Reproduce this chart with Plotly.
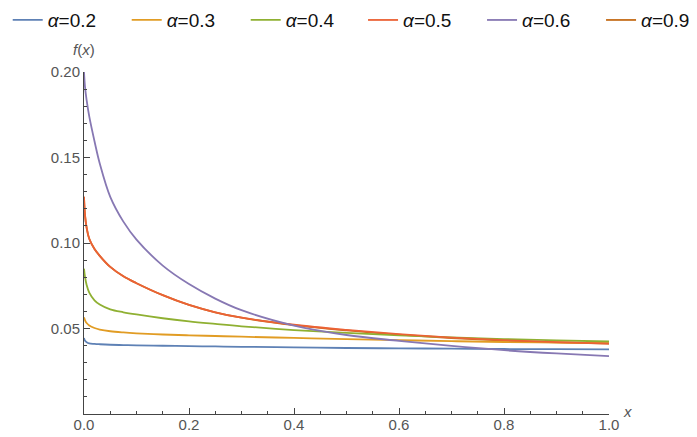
import plotly.graph_objects as go

# Sampled x positions shared by all curves
x_vals = [0.0, 0.002, 0.005, 0.01, 0.02, 0.03, 0.05, 0.075, 0.1, 0.15,
          0.2, 0.25, 0.3, 0.4, 0.5, 0.6, 0.7, 0.8, 0.9, 1.0]

# f(x) for each alpha
f_a02 = [0.0445, 0.0428, 0.0420, 0.0413, 0.0410, 0.0408, 0.0405, 0.0403, 0.0401, 0.0399,
         0.0397, 0.0395, 0.0393, 0.0390, 0.0386, 0.0384, 0.0382, 0.0380, 0.0379, 0.0378]
f_a03 = [0.0565, 0.0548, 0.0532, 0.0518, 0.0503, 0.0494, 0.0484, 0.0477, 0.0472, 0.0465,
         0.0460, 0.0456, 0.0452, 0.0445, 0.0438, 0.0432, 0.0426, 0.0421, 0.0418, 0.0415]
f_a04 = [0.0850, 0.0800, 0.0755, 0.0710, 0.0665, 0.0640, 0.0612, 0.0595, 0.0582, 0.0560,
         0.0542, 0.0527, 0.0513, 0.0491, 0.0474, 0.0460, 0.0448, 0.0438, 0.0430, 0.0424]
f_a05 = [0.1270, 0.1160, 0.1090, 0.1025, 0.0965, 0.0925, 0.0860, 0.0805, 0.0765, 0.0695,
         0.0638, 0.0595, 0.0563, 0.0522, 0.0492, 0.0467, 0.0447, 0.0432, 0.0420, 0.0411]
f_a06 = [0.2000, 0.1910, 0.1835, 0.1740, 0.1595, 0.1465, 0.1270, 0.1125, 0.1020, 0.0868,
         0.0760, 0.0675, 0.0607, 0.0517, 0.0462, 0.0428, 0.0398, 0.0373, 0.0354, 0.0339]
f_a09 = [0.1270, 0.1160, 0.1090, 0.1025, 0.0965, 0.0925, 0.0860, 0.0805, 0.0765, 0.0695,
         0.0638, 0.0595, 0.0563, 0.0520, 0.0489, 0.0464, 0.0444, 0.0429, 0.0419, 0.0412]

labels = ["0.2", "0.3", "0.4", "0.5", "0.6", "0.9"]
series = [f_a02, f_a03, f_a04, f_a05, f_a06, f_a09]
# Mathematica default palette
colors = ["#5E81B5", "#E19C24", "#8FB032", "#EB6235", "#8778B3", "#C56E1A"]

AXIS_GRAY = "#555555"
LINE_GRAY = "#444444"
FONT = "Liberation Sans, Arial, sans-serif"

fig = go.Figure()

# draw alpha=0.9 first so it sits underneath the alpha=0.5 curve
order = [5, 0, 1, 2, 3, 4]
for i in order:
    fig.add_trace(go.Scatter(
        x=x_vals, y=series[i],
        mode="lines",
        line=dict(color=colors[i], width=1.8, shape="spline", smoothing=1.0),
        name="<i>α</i>=" + labels[i],
        legendrank=i + 1,
        # legend split in two halves so the single row never wraps
        legend="legend" if i < 3 else "legend2",
    ))

legend_style = dict(
    orientation="h",
    y=1.2073, xanchor="left", yanchor="top",
    entrywidth=74, entrywidthmode="pixels",
    font=dict(size=19, color="#111111", family=FONT),
    tracegroupgap=0,
    bgcolor="rgba(0,0,0,0)",
)

fig.update_layout(
    width=697, height=437,
    paper_bgcolor="white",
    plot_bgcolor="white",
    margin=dict(l=76, r=96, t=64, b=31, autoexpand=False),
    font=dict(family=FONT, color=AXIS_GRAY),
    showlegend=True,
    legend=dict(x=-0.1453, **legend_style),
    legend2=dict(x=0.5315, **legend_style),
    xaxis=dict(
        range=[0, 1], automargin=False,
        showgrid=False, zeroline=False,
        showline=True, linecolor=LINE_GRAY, linewidth=1,
        ticks="inside", ticklen=6, tickcolor=LINE_GRAY,
        tick0=0, dtick=0.2, tickformat=".1f",
        ticklabelstandoff=-3,
        minor=dict(dtick=0.05, ticks="inside", ticklen=3, tickcolor=LINE_GRAY, showgrid=False),
        tickfont=dict(size=15, color=AXIS_GRAY),
    ),
    yaxis=dict(
        range=[0, 0.2], automargin=False,
        showgrid=False, zeroline=False,
        showline=True, linecolor=LINE_GRAY, linewidth=1,
        ticks="inside", ticklen=6, tickcolor=LINE_GRAY,
        tickvals=[0.05, 0.10, 0.15, 0.20],
        ticktext=["0.05", "0.10", "0.15", "0.20"],
        minor=dict(dtick=0.01, tick0=0, ticks="inside", ticklen=3, tickcolor=LINE_GRAY, showgrid=False),
        tickfont=dict(size=15, color=AXIS_GRAY),
    ),
)

fig.add_annotation(
    xref="paper", yref="paper", x=0.0, y=1.0,
    xanchor="center", yanchor="middle", yshift=23,
    text="<i>f</i>(<i>x</i>)", showarrow=False,
    font=dict(size=15, color=AXIS_GRAY, family=FONT),
)
fig.add_annotation(
    xref="paper", yref="paper", x=1.0, y=0.0,
    xanchor="center", yanchor="middle", xshift=18, yshift=3,
    text="<i>x</i>", showarrow=False,
    font=dict(size=15, color=AXIS_GRAY, family=FONT),
)

fig.write_html("out.html")
